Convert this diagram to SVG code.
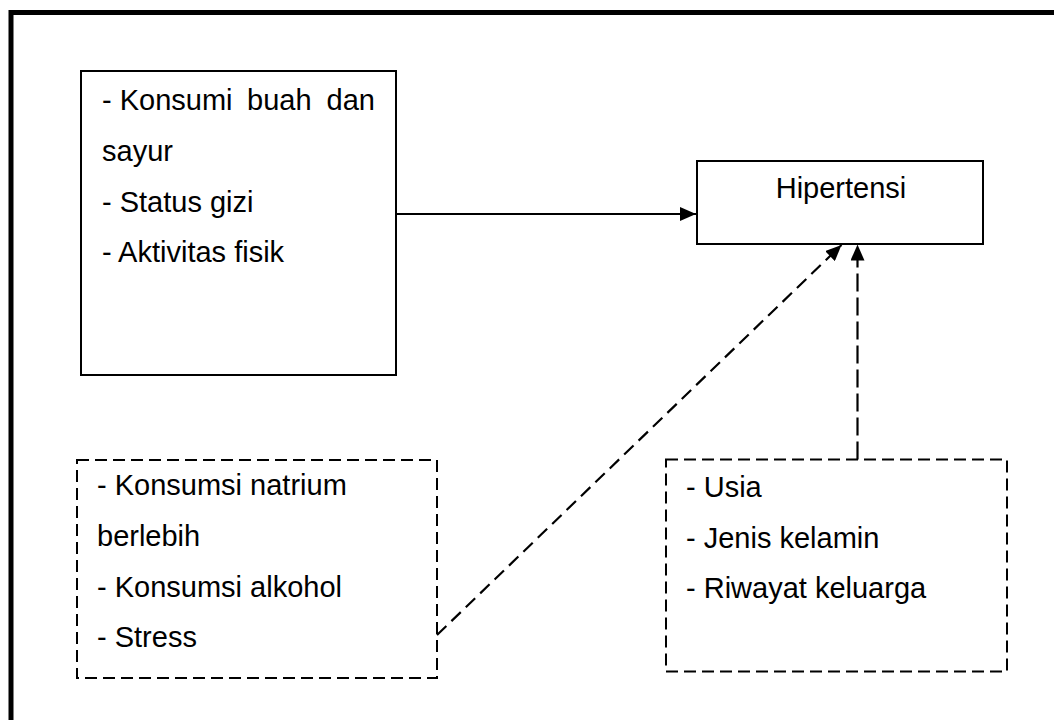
<svg xmlns="http://www.w3.org/2000/svg" width="1054" height="720" viewBox="0 0 1054 720">
  <style>
    .t { font-family: "Liberation Sans", Arial, sans-serif; font-size: 29px; fill: #000; }
    .solid { fill: #fff; stroke: #000; stroke-width: 2; }
    .dbox { fill: #fff; stroke: #000; stroke-width: 2; stroke-dasharray: 12 6; }
    .conn { fill: none; stroke: #000; stroke-width: 2.2; }
  </style>
  <defs>
    <marker id="arrow" markerUnits="userSpaceOnUse" markerWidth="16" markerHeight="14" refX="16" refY="7" orient="auto">
      <path d="M0,0 L16,7 L0,14 z" fill="#000"/>
    </marker>
  </defs>
  <rect x="0" y="0" width="1054" height="720" fill="#fff"/>
  <rect id="frame" x="11" y="12.5" width="1100" height="800" fill="none" stroke="#000" stroke-width="5"/>

  <g id="node-faktor-utama">
    <rect class="solid" x="81" y="71" width="315" height="304"/>
    <text class="t" x="102" y="110">- Konsumi</text>
    <text class="t" x="247" y="110">buah</text>
    <text class="t" x="375" y="110" text-anchor="end">dan</text>
    <text class="t" x="102" y="161">sayur</text>
    <text class="t" x="102" y="212">- Status gizi</text>
    <text class="t" x="102" y="262">- Aktivitas fisik</text>
  </g>

  <g id="node-hipertensi">
    <rect class="solid" x="697" y="161" width="286" height="83"/>
    <text class="t" x="841" y="198" text-anchor="middle">Hipertensi</text>
  </g>

  <g id="node-faktor-lain">
    <rect class="dbox" x="77" y="460" width="360" height="218"/>
    <text class="t" x="97" y="495">- Konsumsi natrium</text>
    <text class="t" x="97" y="546">berlebih</text>
    <text class="t" x="97" y="597">- Konsumsi alkohol</text>
    <text class="t" x="97" y="647">- Stress</text>
  </g>

  <g id="node-faktor-tetap">
    <rect class="dbox" x="666" y="459.5" width="341" height="212"/>
    <text class="t" x="686" y="497">- Usia</text>
    <text class="t" x="686" y="548">- Jenis kelamin</text>
    <text class="t" x="686" y="598">- Riwayat keluarga</text>
  </g>

  <g id="connectors">
    <line class="conn" x1="396" y1="214" x2="696" y2="214" marker-end="url(#arrow)"/>
    <line class="conn" x1="437" y1="635" x2="841.5" y2="245" stroke-dasharray="13 7" marker-end="url(#arrow)"/>
    <line class="conn" x1="857.5" y1="459.5" x2="857.5" y2="244.5" stroke-dasharray="18 6" marker-end="url(#arrow)"/>
  </g>
</svg>
